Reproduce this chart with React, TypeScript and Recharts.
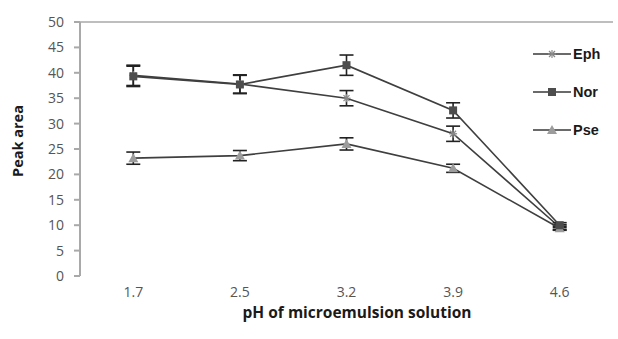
import {
  LineChart,
  Line,
  XAxis,
  YAxis,
  ErrorBar,
  Legend,
  Label,
  ReferenceLine,
} from "recharts";

const categories = ["1.7", "2.5", "3.2", "3.9", "4.6"];
const eph = [39.5, 37.8, 35.0, 28.0, 9.6];
const ephErr = [2.0, 1.8, 1.5, 1.5, 0.5];
const nor = [39.3, 37.7, 41.5, 32.6, 10.0];
const norErr = [2.0, 1.8, 2.0, 1.5, 0.5];
const pse = [23.2, 23.7, 26.0, 21.2, 9.4];
const pseErr = [1.2, 1.0, 1.2, 0.8, 0.4];
const yTicks = [0, 5, 10, 15, 20, 25, 30, 35, 40, 45, 50];

const data = categories.map((c, i) => ({
  idx: i,
  ph: c,
  eph: eph[i],
  ephErr: ephErr[i],
  nor: nor[i],
  norErr: norErr[i],
  pse: pse[i],
  pseErr: pseErr[i],
}));

const boundaryTicks = [-0.5, 0.5, 1.5, 2.5, 3.5, 4.5];
const LINE = "#3f3f3f";
const AXIS = "#a9a9a9";

function Square({ cx, cy }: any) {
  if (cx == null || cy == null) return null;
  return <rect x={cx - 4} y={cy - 4} width={8} height={8} fill="#4d4d4d" />;
}

function Triangle({ cx, cy }: any) {
  if (cx == null || cy == null) return null;
  return (
    <polygon
      points={`${cx},${cy - 5} ${cx + 5},${cy + 4} ${cx - 5},${cy + 4}`}
      fill="#9c9c9c"
    />
  );
}

function Star({ cx, cy }: any) {
  if (cx == null || cy == null) return null;
  const r = 4;
  return (
    <g stroke="#8a8a8a" strokeWidth={1.2}>
      <line x1={cx - r} y1={cy} x2={cx + r} y2={cy} />
      <line x1={cx} y1={cy - r} x2={cx} y2={cy + r} />
      <line x1={cx - 3} y1={cy - 3} x2={cx + 3} y2={cy + 3} />
      <line x1={cx - 3} y1={cy + 3} x2={cx + 3} y2={cy - 3} />
    </g>
  );
}

const legendItems = [
  { name: "Eph", Marker: Star },
  { name: "Nor", Marker: Square },
  { name: "Pse", Marker: Triangle },
];

function LegendContent() {
  return (
    <div>
      {legendItems.map(({ name, Marker }) => (
        <div
          key={name}
          style={{ display: "flex", alignItems: "center", height: 38 }}
        >
          <svg width={40} height={14}>
            <line x1={0} y1={7} x2={38} y2={7} stroke="#6a6a6a" strokeWidth={2} />
            <Marker cx={19} cy={7} />
          </svg>
          <span
            style={{
              fontFamily: "'Liberation Sans', Arial, sans-serif",
              fontWeight: "bold",
              fontSize: 14.5,
              color: "#1a1a1a",
            }}
          >
            {name}
          </span>
        </div>
      ))}
    </div>
  );
}

export default function App() {
  const tickStyle = {
    fontFamily: "'Open Sans', sans-serif",
    fontSize: 14,
    fill: "#555",
  };
  return (
    <div
      style={{
        position: "absolute",
        left: 0,
        top: 0,
        width: 618,
        height: 339,
        background: "#fff",
      }}
    >
      <LineChart
        width={618}
        height={339}
        data={data}
        margin={{ top: 22, right: 5, bottom: 0, left: 0 }}
      >
        <XAxis
          xAxisId="tick"
          type="number"
          dataKey="idx"
          domain={[-0.5, 4.5]}
          ticks={boundaryTicks}
          tick={false}
          tickSize={5}
          height={0}
          stroke={AXIS}
          strokeWidth={2}
        />
        <XAxis
          xAxisId="main"
          type="number"
          dataKey="idx"
          domain={[-0.5, 4.5]}
          ticks={[0, 1, 2, 3, 4]}
          tickFormatter={(v) => categories[v]}
          axisLine={false}
          tickLine={false}
          tickSize={0}
          tickMargin={11}
          height={63}
          tick={tickStyle}
        >
          <Label
            content={() => (
              <text
                x={357}
                y={318}
                textAnchor="middle"
                fontFamily="'Open Sans', sans-serif"
                fontWeight="bold"
                fontSize={15.5}
                fill="#1a1a1a"
              >
                pH of microemulsion solution
              </text>
            )}
          />
        </XAxis>
        <YAxis
          width={80}
          domain={[0, 50]}
          ticks={yTicks}
          interval={0}
          tickSize={6}
          tickMargin={10}
          stroke={AXIS}
          strokeWidth={2}
          tick={tickStyle}
        >
          <Label
            content={() => (
              <text
                x={23}
                y={141}
                textAnchor="middle"
                transform="rotate(-90 23 141)"
                fontFamily="'Open Sans', sans-serif"
                fontWeight="bold"
                fontSize={14.5}
                fill="#1a1a1a"
              >
                Peak area
              </text>
            )}
          />
        </YAxis>
        <ReferenceLine y={50} xAxisId="main" stroke={AXIS} strokeWidth={1.5} />
        <Legend
          layout="vertical"
          align="center"
          verticalAlign="middle"
          wrapperStyle={{ left: 533, top: 35, width: 85 }}
          content={() => <LegendContent />}
        />
        <Line
          xAxisId="main"
          dataKey="eph"
          stroke={LINE}
          strokeWidth={1.6}
          dot={<Star />}
          isAnimationActive={false}
        >
          <ErrorBar
            dataKey="ephErr"
            direction="y"
            width={7}
            stroke="#222"
            strokeWidth={1.6}
          />
        </Line>
        <Line
          xAxisId="main"
          dataKey="pse"
          stroke={LINE}
          strokeWidth={1.6}
          dot={<Triangle />}
          isAnimationActive={false}
        >
          <ErrorBar
            dataKey="pseErr"
            direction="y"
            width={7}
            stroke="#222"
            strokeWidth={1.6}
          />
        </Line>
        <Line
          xAxisId="main"
          dataKey="nor"
          stroke={LINE}
          strokeWidth={1.6}
          dot={<Square />}
          isAnimationActive={false}
        >
          <ErrorBar
            dataKey="norErr"
            direction="y"
            width={7}
            stroke="#222"
            strokeWidth={1.6}
          />
        </Line>
      </LineChart>
    </div>
  );
}
